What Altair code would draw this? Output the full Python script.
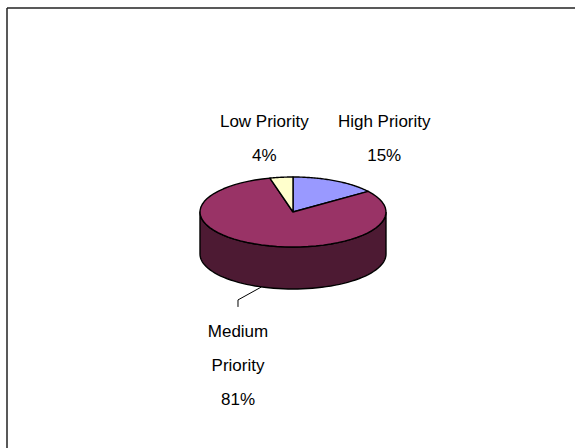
import altair as alt
import pandas as pd

# ---- data ----
categories = ["High Priority", "Medium Priority", "Low Priority"]
percent = [15, 81, 4]
label_text = ["High Priority", "Medium\nPriority", "Low  Priority"]

top_colors = ["#9999FF", "#993366", "#FFFFCC"]
side_colors = ["#4D4D80", "#4D1A33", "#808066"]

df = pd.DataFrame({"k": list(range(len(categories))), "category": categories,
                   "value": percent, "label": label_text})

N = 60          # samples per arc
D = 1.2         # pie depth in units of vertical radius
FONT = "Liberation Sans"

xs = alt.Scale(domain=[-1, 1], range=[200, 386], zero=False, nice=False)
ys = alt.Scale(domain=[1, -1], range=[177, 247], zero=False, nice=False)
fill_top = alt.Scale(domain=categories, range=top_colors)
fill_side = alt.Scale(domain=categories, range=side_colors)

base = (alt.Chart(df)
        .transform_window(cum="sum(value)", sort=[alt.SortField("k")])
        .transform_joinaggregate(total="sum(value)")
        .transform_calculate(
            a1="(datum.cum - datum.value) / datum.total * 2 * PI",
            a2="datum.cum / datum.total * 2 * PI"))

# ---- side wall (front half only) ----
side = (base
        .transform_calculate(b1="max(datum.a1, PI/2)", b2="min(datum.a2, 3*PI/2)")
        .transform_filter("datum.b1 < datum.b2")
        .transform_calculate(i=f"sequence(0, {2*N+3})")
        .transform_flatten(["i"])
        .transform_calculate(
            ang=f"datum.i <= {N} ? datum.b1 + (datum.b2 - datum.b1) * datum.i / {N} : "
                f"(datum.i <= {2*N+1} ? datum.b2 - (datum.b2 - datum.b1) * (datum.i - {N+1}) / {N} : datum.b1)",
            px="sin(datum.ang)",
            py=f"cos(datum.ang) - ((datum.i > {N} && datum.i <= {2*N+1}) ? {D} : 0)")
        .mark_line(stroke="black", strokeWidth=1.4, strokeJoin="round")
        .encode(x=alt.X("px:Q", scale=xs, axis=None),
                y=alt.Y("py:Q", scale=ys, axis=None),
                fill=alt.Fill("category:N", scale=fill_side, legend=None),
                detail="category:N",
                order="i:Q"))

# ---- top faces ----
top = (base
       .transform_calculate(i=f"sequence(0, {N+3})")
       .transform_flatten(["i"])
       .transform_calculate(
           ang=f"datum.a1 + (datum.a2 - datum.a1) * (clamp(datum.i, 1, {N+1}) - 1) / {N}",
           px=f"(datum.i == 0 || datum.i == {N+2}) ? 0 : sin(datum.ang)",
           py=f"(datum.i == 0 || datum.i == {N+2}) ? 0 : cos(datum.ang)")
       .mark_line(stroke="black", strokeWidth=1.4, strokeJoin="round")
       .encode(x=alt.X("px:Q", scale=xs, axis=None),
               y=alt.Y("py:Q", scale=ys, axis=None),
               fill=alt.Fill("category:N", scale=fill_top, legend=None),
               detail="category:N",
               order="i:Q"))

# ---- label anchors at each slice's mid angle on the rim ----
anchors = (base
           .transform_calculate(mid="(datum.a1 + datum.a2) / 2")
           .transform_calculate(
               lx="sin(datum.mid)",
               ly=f"cos(datum.mid) - (cos(datum.mid) < 0 ? {D} : 0)",
               txt="datum.label + '\\n' + datum.value + '%'"))

offsets = {"High Priority": (49, -54), "Medium Priority": (-23.5, 50), "Low Priority": (-17, -50)}
labels = []
for cat in categories:
    dx, dy = offsets[cat]
    labels.append(
        anchors.transform_filter(alt.datum.category == cat)
        .mark_text(font=FONT, fontSize=17, lineBreak="\n", lineHeight=34,
                   align="center", baseline="alphabetic", dx=dx, dy=dy, color="black")
        .encode(x=alt.X("lx:Q", scale=xs, axis=None),
                y=alt.Y("ly:Q", scale=ys, axis=None),
                text="txt:N"))

# leader line for the medium slice
med = anchors.transform_filter(alt.datum.category == "Medium Priority")
lead1 = med.mark_rule(color="black", strokeWidth=1, x2Offset=-23.5, y2Offset=13).encode(
    x=alt.X("lx:Q", scale=xs, axis=None), y=alt.Y("ly:Q", scale=ys, axis=None),
    x2="lx:Q", y2="ly:Q")
lead2 = med.mark_rule(color="black", strokeWidth=1, xOffset=-23.5, x2Offset=-23.5,
                      yOffset=13, y2Offset=20).encode(
    x=alt.X("lx:Q", scale=xs, axis=None), y=alt.Y("ly:Q", scale=ys, axis=None),
    x2="lx:Q", y2="ly:Q")

# chart border
one = alt.Chart(pd.DataFrame({"k": [0]}))
border_top = one.mark_rule(color="#222222", strokeWidth=1.5).encode(
    x=alt.value(7), x2=alt.value(575), y=alt.value(8))
border_left = one.mark_rule(color="#222222", strokeWidth=1.5).encode(
    x=alt.value(7), y=alt.value(8), y2=alt.value(448))

chart = alt.layer(side, top, *labels, lead1, lead2, border_top, border_left).resolve_scale(
    fill="independent"
).properties(
    width=575, height=448, autosize="none", padding=0
).configure_view(stroke=None)

chart.save("out.html", embed_options={"renderer": "svg", "actions": False})
